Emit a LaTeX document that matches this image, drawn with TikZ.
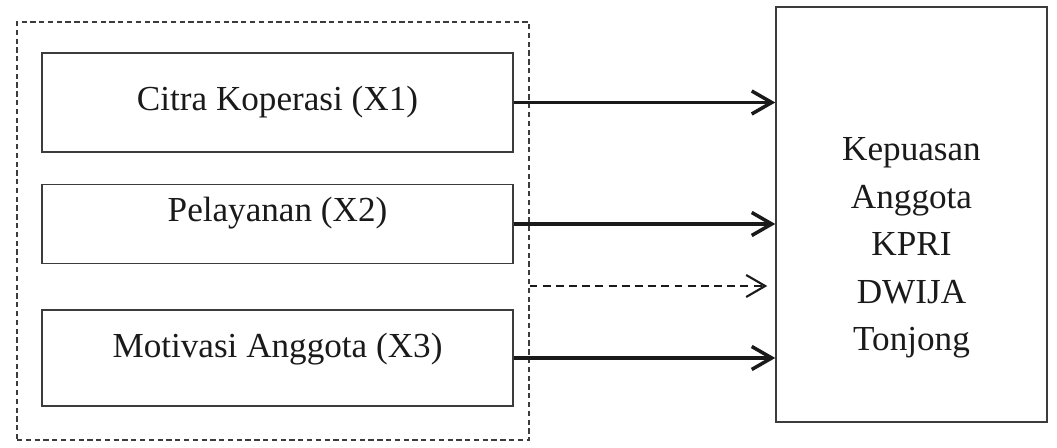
\documentclass[tikz,border=0pt]{standalone}
\usepackage{fontspec}
\setmainfont{Liberation Serif}
\usetikzlibrary{arrows.meta,calc,positioning}
\definecolor{Ink}{HTML}{1A1A1A}
\definecolor{Frame}{HTML}{3C3C3C}

\begin{document}
\begin{tikzpicture}[node distance=0.62cm and 0.34cm,
      box/.style={draw=Frame,line width=0.85pt,fill=white,
        minimum width=9.42cm,align=center,font=\fontsize{20}{27}\selectfont,text=Ink},
      group/.style={draw=Frame,line width=0.6pt,dash pattern=on 3pt off 2pt,
        minimum width=10.24cm,minimum height=8.36cm},
      arr/.style={-{Straight Barb[length=4mm,width=4.6mm]},line width=2pt,draw=Ink},
      dasharr/.style={-{Straight Barb[length=3.8mm,width=4.4mm]},line width=1.2pt,
        dash pattern=on 4.5pt off 3pt,draw=Ink}]
      \useasboundingbox (0,0) rectangle (21.14,8.96);
      \node[group] (group) at (5.46,4.34) {};
      \node[box,minimum height=1.98cm] (citra) at (5.55,6.91) {Citra Koperasi (X1)};
      \node[box,minimum height=1.58cm,text depth=0.58cm,below=of citra] (pelayanan) {Pelayanan (X2)};
      \node[box,minimum height=1.92cm,text depth=0.5cm,below=0.9cm of pelayanan] (motivasi) {Motivasi Anggota (X3)};
      \node[box,minimum width=5.42cm,minimum height=8.3cm,text height=5.6cm] (kepuasan) at (18.23,4.67)
        {Kepuasan\\Anggota\\KPRI\\DWIJA\\Tonjong};
      \coordinate (dashstart) at ($(group.east)+(0,-1.1)$);
      \draw[arr] (citra.east) -- (citra.east -| kepuasan.west);
      \draw[arr] (pelayanan.east) -- (pelayanan.east -| kepuasan.west);
      \draw[arr] (motivasi.east) -- (motivasi.east -| kepuasan.west);
      \draw[dasharr] (dashstart) -- ([xshift=-1.6mm]dashstart -| kepuasan.west);
    \end{tikzpicture}
\end{document}
